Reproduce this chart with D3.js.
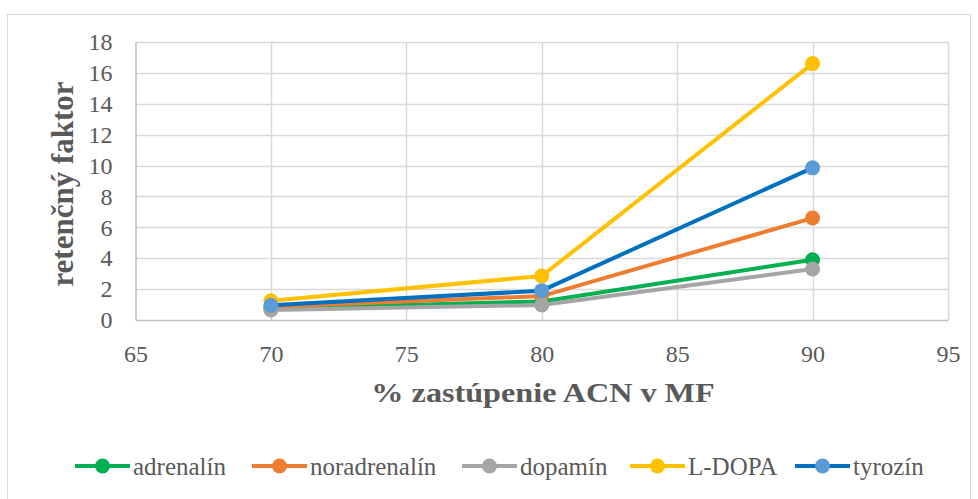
<!DOCTYPE html>
<html><head><meta charset="utf-8">
<script src="https://cdn.jsdelivr.net/npm/d3@7"></script>
<style>body{margin:0;background:#fff}svg{display:block}</style>
</head><body><svg id="c" width="978" height="499"></svg>
<script>
const xValues = [70, 80, 90];
const seriesNames = ["adrenalín", "noradrenalín", "dopamín", "L-DOPA", "tyrozín"];
const adrenalin = [0.75, 1.2, 3.9];
const noradrenalin = [0.85, 1.55, 6.6];
const dopamin = [0.65, 0.97, 3.3];
const ldopa = [1.25, 2.85, 16.6];
const tyrozin = [0.95, 1.9, 9.85];
const xTicks = [65, 70, 75, 80, 85, 90, 95];
const yTicks = [0, 2, 4, 6, 8, 10, 12, 14, 16, 18];
const lineColors = ["#00B050", "#ED7D31", "#A5A5A5", "#FFC000", "#0070C0"];
const markerColors = ["#00B050", "#ED7D31", "#A5A5A5", "#FFC000", "#5B9BD5"];

const FONT = "'Liberation Serif', 'Times New Roman', serif";
const data = [adrenalin, noradrenalin, dopamin, ldopa, tyrozin];
const svg = d3.select("#c");
svg.append("rect").attr("x", 7.5).attr("y", 14.5).attr("width", 963).attr("height", 520)
  .attr("fill", "#fff").attr("stroke", "#D9D9D9");

const x = d3.scaleLinear().domain([65, 95]).range([135.5, 948]);
const y = d3.scaleLinear().domain([0, 18]).range([320, 42]);

const g = svg.append("g");
g.selectAll(".hg").data(yTicks.filter(d => d > 0)).enter().append("line")
  .attr("x1", x(65)).attr("x2", x(95)).attr("y1", d => Math.round(y(d)) + 0.5).attr("y2", d => Math.round(y(d)) + 0.5)
  .attr("stroke", "#D9D9D9").attr("stroke-width", 1.5);
g.selectAll(".vg").data(xTicks.filter(d => d > 65)).enter().append("line")
  .attr("y1", y(0)).attr("y2", y(18)).attr("x1", d => Math.round(x(d)) + 0.5).attr("x2", d => Math.round(x(d)) + 0.5)
  .attr("stroke", "#D9D9D9").attr("stroke-width", 1.5);

const yAxis = d3.axisLeft(y).tickValues(yTicks).tickSize(0).tickPadding(23);
const ya = svg.append("g").attr("transform", `translate(${x(65)},0)`).call(yAxis).attr("font-family", null);
ya.select(".domain").attr("stroke", "#BFBFBF").attr("stroke-width", 1.5);
ya.selectAll("text").style("font-family", FONT).style("font-size", "24px").attr("fill", "#595959");
const xAxis = d3.axisBottom(x).tickValues(xTicks).tickSize(0).tickPadding(25);
const xa = svg.append("g").attr("transform", `translate(0,${y(0)})`).call(xAxis).attr("font-family", null);
xa.select(".domain").attr("stroke", "#BFBFBF").attr("stroke-width", 1.5);
xa.selectAll("text").style("font-family", FONT).style("font-size", "24px").attr("fill", "#595959");

svg.append("text").attr("transform", "translate(73,184) rotate(-90)").attr("text-anchor", "middle")
  .style("font-family", FONT).attr("font-size", 31).attr("font-weight", "bold").attr("fill", "#595959").text("retenčný faktor");
svg.append("text").attr("transform", "translate(543,402) scale(1.15,1)").attr("text-anchor", "middle")
  .style("font-family", FONT).attr("font-size", 28).attr("font-weight", "bold").attr("fill", "#595959").text("% zastúpenie ACN v MF");

const line = d3.line().x((d, i) => x(xValues[i])).y(d => y(d));
data.forEach((s, k) => {
  svg.append("path").attr("d", line(s)).attr("fill", "none").attr("stroke", lineColors[k])
    .attr("stroke-width", 4).attr("stroke-linejoin", "round");
  svg.selectAll(null).data(s).enter().append("circle")
    .attr("cx", (d, i) => x(xValues[i])).attr("cy", d => y(d)).attr("r", 7.5)
    .attr("fill", markerColors[k]);
});

const legX = [75, 252, 462, 630, 795];
const leg = svg.append("g");
seriesNames.forEach((n, k) => {
  const lx = legX[k], ly = 466;
  leg.append("line").attr("x1", lx).attr("x2", lx + 55).attr("y1", ly).attr("y2", ly)
    .attr("stroke", lineColors[k]).attr("stroke-width", 4);
  leg.append("circle").attr("cx", lx + 27.5).attr("cy", ly).attr("r", 7.5).attr("fill", markerColors[k]);
  leg.append("text").attr("x", lx + 58).attr("y", ly + 9).style("font-family", FONT).attr("font-size", 25)
    .attr("fill", "#595959").text(n);
});
</script></body></html>
